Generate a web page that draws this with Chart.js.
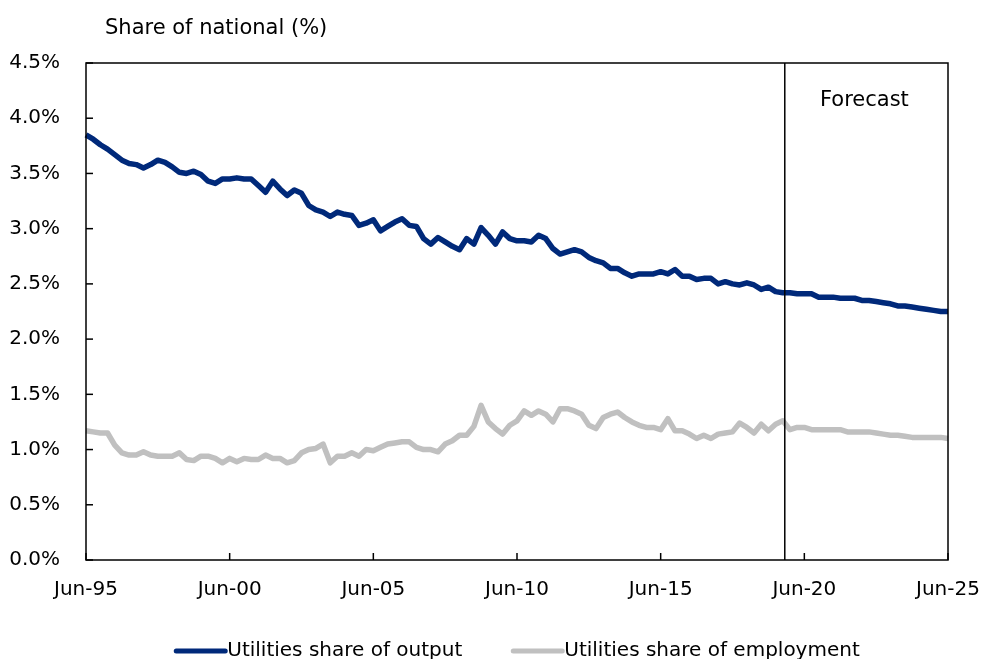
<!DOCTYPE html>
<html>
<head>
<meta charset="utf-8">
<script src="https://cdn.jsdelivr.net/npm/chart.js@4.4.1/dist/chart.umd.min.js"></script>
<style>
  html, body { margin: 0; padding: 0; background: #fff; }
  #wrap { width: 986px; height: 659px; position: relative; }
</style>
</head>
<body>
<div id="wrap"><canvas id="utilChart"></canvas></div>
<script>
// quarterly categories, Jun-95 .. Jun-25
const months = ['Jun', 'Sep', 'Dec', 'Mar'];
const quarters = [];
for (let i = 0; i <= 120; i++) {
    const y = 1995 + Math.floor((i + 1) / 4);
    quarters.push(months[i % 4] + '-' + String(y % 100).padStart(2, '0'));
}
const tickLabels = ['Jun-95', 'Jun-00', 'Jun-05', 'Jun-10', 'Jun-15', 'Jun-20', 'Jun-25'];
const forecastStart = 'Sep-19';

const outputShare = [
    3.85, 3.81, 3.76, 3.72, 3.67, 3.62, 3.59, 3.58, 3.55, 3.58,
    3.62, 3.60, 3.56, 3.51, 3.50, 3.52, 3.49, 3.43, 3.41, 3.45,
    3.45, 3.46, 3.45, 3.45, 3.39, 3.33, 3.43, 3.36, 3.30, 3.35,
    3.32, 3.21, 3.17, 3.15, 3.11, 3.15, 3.13, 3.12, 3.03, 3.05,
    3.08, 2.98, 3.02, 3.06, 3.09, 3.03, 3.02, 2.91, 2.86, 2.92,
    2.88, 2.84, 2.81, 2.91, 2.86, 3.01, 2.94, 2.86, 2.97, 2.91,
    2.89, 2.89, 2.88, 2.94, 2.91, 2.82, 2.77, 2.79, 2.81, 2.79,
    2.74, 2.71, 2.69, 2.64, 2.64, 2.60, 2.57, 2.59, 2.59, 2.59,
    2.61, 2.59, 2.63, 2.57, 2.57, 2.54, 2.55, 2.55, 2.50, 2.52,
    2.50, 2.49, 2.51, 2.49, 2.45, 2.47, 2.43, 2.42, 2.42, 2.41,
    2.41, 2.41, 2.38, 2.38, 2.38, 2.37, 2.37, 2.37, 2.35, 2.35,
    2.34, 2.33, 2.32, 2.30, 2.30, 2.29, 2.28, 2.27, 2.26, 2.25,
    2.25
];

const employmentShare = [
    1.17, 1.16, 1.15, 1.15, 1.04, 0.97, 0.95, 0.95, 0.98, 0.95,
    0.94, 0.94, 0.94, 0.97, 0.91, 0.90, 0.94, 0.94, 0.92, 0.88,
    0.92, 0.89, 0.92, 0.91, 0.91, 0.95, 0.92, 0.92, 0.88, 0.90,
    0.97, 1.00, 1.01, 1.05, 0.88, 0.94, 0.94, 0.97, 0.94, 1.00,
    0.99, 1.02, 1.05, 1.06, 1.07, 1.07, 1.02, 1.00, 1.00, 0.98,
    1.05, 1.08, 1.13, 1.13, 1.21, 1.40, 1.25, 1.19, 1.14, 1.22,
    1.26, 1.35, 1.31, 1.35, 1.32, 1.25, 1.37, 1.37, 1.35, 1.32,
    1.22, 1.19, 1.29, 1.32, 1.34, 1.29, 1.25, 1.22, 1.20, 1.20,
    1.18, 1.28, 1.17, 1.17, 1.14, 1.10, 1.13, 1.10, 1.14, 1.15,
    1.16, 1.24, 1.20, 1.15, 1.23, 1.17, 1.23, 1.26, 1.18, 1.20,
    1.20, 1.18, 1.18, 1.18, 1.18, 1.18, 1.16, 1.16, 1.16, 1.16,
    1.15, 1.14, 1.13, 1.13, 1.12, 1.11, 1.11, 1.11, 1.11, 1.11,
    1.10
];

const FONT = '"DejaVu Sans", Verdana, sans-serif';

// box, inward ticks, forecast marker, axis title and legend
const decorations = {
    id: 'decorations',
    afterDraw(chart) {
        const ctx = chart.ctx;
        const area = chart.chartArea;
        const x = chart.scales.x;
        const y = chart.scales.y;
        ctx.save();
        ctx.strokeStyle = '#000';

        // frame
        ctx.lineWidth = 1.5;
        ctx.strokeRect(area.left, area.top, area.right - area.left, area.bottom - area.top);

        // inward ticks
        y.ticks.forEach(t => {
            const py = y.getPixelForValue(t.value);
            ctx.beginPath();
            ctx.moveTo(area.left, py);
            ctx.lineTo(area.left + 7, py);
            ctx.stroke();
        });
        tickLabels.forEach(l => {
            const px = x.getPixelForValue(quarters.indexOf(l));
            ctx.beginPath();
            ctx.moveTo(px, area.bottom);
            ctx.lineTo(px, area.bottom - 7);
            ctx.stroke();
        });

        // forecast divider
        const fx = x.getPixelForValue(quarters.indexOf(forecastStart)) + 2;
        ctx.beginPath();
        ctx.moveTo(fx, area.top);
        ctx.lineTo(fx, area.bottom);
        ctx.stroke();

        ctx.fillStyle = '#000';
        ctx.font = '21px ' + FONT;
        ctx.textAlign = 'center';
        ctx.textBaseline = 'middle';
        ctx.fillText('Forecast', (fx + area.right) / 2 - 2, area.top + 38);

        // axis title
        ctx.textAlign = 'left';
        ctx.fillText('Share of national (%)', area.left + 19, 29);

        // legend
        ctx.font = '20px ' + FONT;
        const items = chart.data.datasets;
        const sample = 53, gap = 49;
        const widths = items.map(d => sample + ctx.measureText(d.label).width);
        const total = widths.reduce((a, b) => a + b, 0) + gap * (items.length - 1);
        let lx = (area.left + area.right) / 2 - total / 2;
        const ly = 651;
        items.forEach((d, i) => {
            ctx.strokeStyle = d.borderColor;
            ctx.lineWidth = 5;
            ctx.lineCap = 'round';
            ctx.beginPath();
            ctx.moveTo(lx + 2, ly);
            ctx.lineTo(lx + sample - 2, ly);
            ctx.stroke();
            ctx.fillStyle = '#000';
            ctx.fillText(d.label, lx + sample, ly);
            lx += widths[i] + gap;
        });
        ctx.restore();
    }
};

const ctxLine = document.getElementById('utilChart').getContext('2d');
new Chart(ctxLine, {
    type: 'line',
    data: {
        labels: quarters,
        datasets: [
            {
                label: 'Utilities share of output',
                data: outputShare,
                borderColor: '#00297A',
                borderWidth: 5.5,
                pointRadius: 0,
                tension: 0,
                borderJoinStyle: 'round'
            },
            {
                label: 'Utilities share of employment',
                data: employmentShare,
                borderColor: '#C0C0C0',
                borderWidth: 5.5,
                pointRadius: 0,
                tension: 0,
                borderJoinStyle: 'round'
            }
        ]
    },
    options: {
        responsive: true,
        maintainAspectRatio: false,
        animation: false,
        layout: { padding: { top: 63, right: 38, bottom: 0, left: 0 } },
        plugins: {
            legend: { display: false },
            tooltip: { enabled: false }
        },
        scales: {
            x: {
                grid: { display: false },
                border: { display: false },
                ticks: {
                    autoSkip: false,
                    maxRotation: 0,
                    padding: 10,
                    color: '#000',
                    font: { family: FONT, size: 20 },
                    callback: function(value) {
                        const l = this.getLabelForValue(value);
                        return tickLabels.includes(l) ? l : '';
                    }
                },
                afterFit: s => { s.height = 99; s.paddingLeft = 0; s.paddingRight = 0; }
            },
            y: {
                min: 0,
                max: 4.5,
                grid: { display: false },
                border: { display: false },
                ticks: {
                    stepSize: 0.5,
                    padding: 18,
                    color: '#000',
                    font: { family: FONT, size: 20 },
                    callback: v => v.toFixed(1) + '%'
                },
                afterFit: s => { s.width = 86; }
            }
        }
    },
    plugins: [decorations]
});
</script>
</body>
</html>
